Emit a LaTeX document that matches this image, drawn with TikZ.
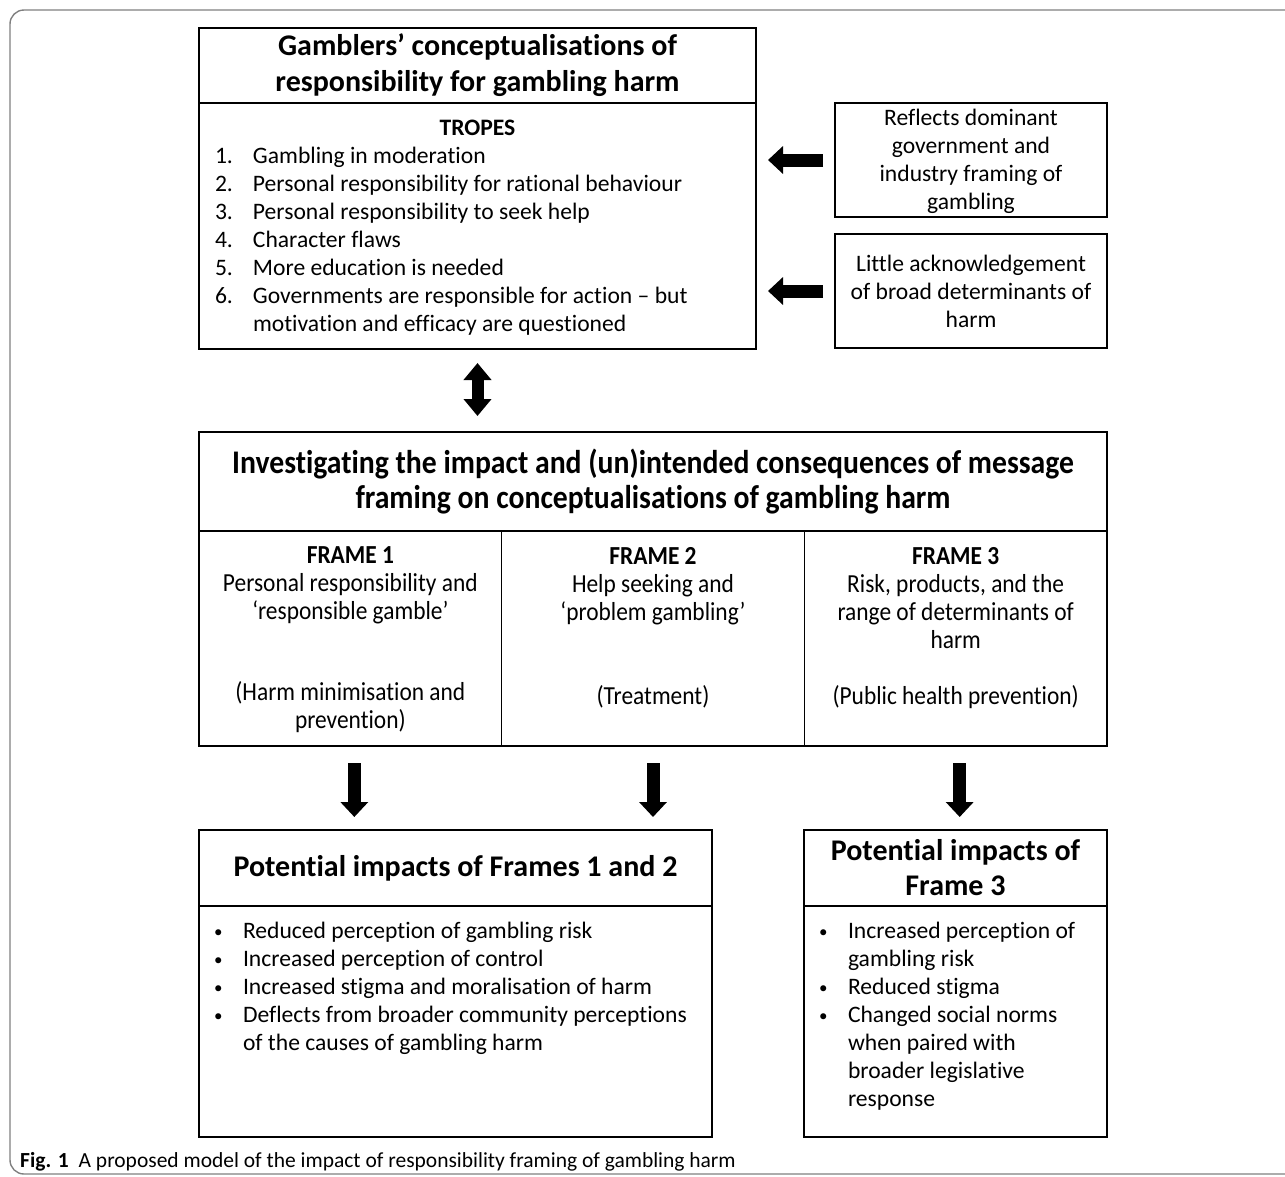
\documentclass[tikz,border=0pt]{standalone}
\usepackage{fontspec}
\setmainfont{Carlito}[Ligatures=NoCommon]
\newfontfamily\narrowfont{Carlito}[FakeStretch=0.9,Ligatures=NoCommon]
\usetikzlibrary{positioning,arrows.meta}

\newcommand{\bodysize}{\fontsize{23.6}{28}\selectfont}
\newcommand{\headsize}{\fontsize{30}{36}\selectfont\bfseries}
\newcommand{\hangline}[3]{\par\noindent\hangindent=#1\hangafter=1\makebox[#1][l]{#2}#3}
\newcommand{\smallbullet}{\raisebox{1pt}{\fontsize{17}{17}\selectfont •}}

\begin{document}
\begin{tikzpicture}[x=1pt,y=-1pt,
    box/.style={draw,line width=1.6pt,inner sep=0pt,outer sep=0pt,align=center},
    blockarrow/.style={line width=13pt,-{Triangle[length=15pt 0 0,width=27pt 0 0]}},
    twowayarrow/.style={line width=12pt,{Triangle[length=17pt 0 0,width=27pt 0 0]}-{Triangle[length=17pt 0 0,width=27pt 0 0]}}]
    \useasboundingbox (0,0) rectangle (1285,1176);
    \begin{scope}
        \clip (0,0) rectangle (1285,1176);
        \draw[black!50,line width=1.4pt,rounded corners=14pt] (10,10) rectangle (1320,1174);
    \end{scope}
    % top block
    \node[box,minimum width=557pt,minimum height=75pt,font=\headsize] (gtitle) at (477.5,65.5)
        {Gamblers’ conceptualisations of\\responsibility for gambling harm};
    \node[box,below=0pt of gtitle,minimum width=557pt,minimum height=246pt,font=\bodysize] (tropes)
        {\parbox[c][246pt][t]{525pt}{\parskip=0pt\centering\vspace*{17pt}\textbf{TROPES}\par\raggedright
        \hangline{38pt}{1.}{Gambling in moderation}
        \hangline{38pt}{2.}{Personal responsibility for rational behaviour}
        \hangline{38pt}{3.}{Personal responsibility to seek help}
        \hangline{38pt}{4.}{Character flaws}
        \hangline{38pt}{5.}{More education is needed}
        \hangline{38pt}{6.}{Governments are responsible for action – but\newline motivation and efficacy are questioned}\par}};
    \node[box,minimum width=272pt,minimum height=114pt,font=\bodysize] (reflects) at (971,160)
        {\rule{0pt}{20pt}Reflects dominant\\government and\\industry framing of\\gambling};
    \node[box,minimum width=272pt,minimum height=114pt,font=\bodysize] (little) at (971,291)
        {Little acknowledgement\\of broad determinants of\\harm};
    % framing block
    \node[box,minimum width=908pt,minimum height=99pt,font=\narrowfont\fontsize{33}{35}\selectfont\bfseries] (invest) at (653,481.5)
        {Investigating the impact and (un)intended consequences of message\\framing on conceptualisations of gambling harm};
    \node[box,anchor=north west,minimum width=302.67pt,minimum height=215pt,font=\narrowfont\fontsize{26}{28}\selectfont] (frameone) at (invest.south west)
        {\parbox[c][215pt][t]{295pt}{\centering\vspace*{16pt}\textbf{FRAME 1}\\Personal responsibility and\\‘responsible gamble’\\[53pt](Harm minimisation and\\prevention)}};
    \node[box,right=0pt of frameone,minimum width=302.67pt,minimum height=215pt,font=\narrowfont\fontsize{26}{28}\selectfont] (frametwo)
        {\parbox[c][215pt][t]{295pt}{\centering\vspace*{16pt}\textbf{FRAME 2}\\Help seeking and\\‘problem gambling’\\[56pt](Treatment)}};
    \node[box,right=0pt of frametwo,minimum width=302.67pt,minimum height=215pt,font=\narrowfont\fontsize{26}{28}\selectfont] (framethree)
        {\parbox[c][215pt][t]{295pt}{\centering\vspace*{16pt}\textbf{FRAME 3}\\Risk, products, and the\\range of determinants of\\harm\\[28pt](Public health prevention)}};
    % impacts
    \node[box,anchor=north west,minimum width=513pt,minimum height=76pt,font=\headsize] (impactone) at (199,830)
        {Potential impacts of Frames 1 and 2};
    \node[box,below=0pt of impactone,minimum width=513pt,minimum height=231pt,font=\bodysize] (impactonelist)
        {\parbox[c][231pt][t]{483pt}{\parskip=0pt\raggedright\vspace*{16pt}
        \hangline{29pt}{\smallbullet}{Reduced perception of gambling risk}
        \hangline{29pt}{\smallbullet}{Increased perception of control}
        \hangline{29pt}{\smallbullet}{Increased stigma and moralisation of harm}
        \hangline{29pt}{\smallbullet}{Deflects from broader community perceptions\newline of the causes of gambling harm}\par}};
    \node[box,anchor=north west,minimum width=303pt,minimum height=76pt,font=\fontsize{30}{35}\selectfont\bfseries] (impactthree) at (804,830)
        {Potential impacts of\\Frame 3};
    \node[box,below=0pt of impactthree,minimum width=303pt,minimum height=231pt,font=\bodysize] (impactthreelist)
        {\parbox[c][231pt][t]{273pt}{\parskip=0pt\raggedright\vspace*{16pt}
        \hangline{29pt}{\smallbullet}{Increased perception of\newline gambling risk}
        \hangline{29pt}{\smallbullet}{Reduced stigma}
        \hangline{29pt}{\smallbullet}{Changed social norms\newline when paired with\newline broader legislative\newline response}\par}};
    % arrows
    \draw[blockarrow,shorten <=12pt,shorten >=12pt] (reflects.west) -- (reflects.west -| tropes.east);
    \draw[blockarrow,shorten <=12pt,shorten >=12pt] (little.west) -- (little.west -| tropes.east);
    \draw[twowayarrow,shorten <=14pt,shorten >=16pt] (tropes.south) -- (tropes.south |- invest.north);
    \draw[blockarrow,shorten <=17pt,shorten >=13pt] ([xshift=4pt]frameone.south) -- ([xshift=4pt]frameone.south |- impactone.north);
    \draw[blockarrow,shorten <=17pt,shorten >=13pt] (frametwo.south) -- (frametwo.south |- impactone.north);
    \draw[blockarrow,shorten <=17pt,shorten >=13pt] ([xshift=4pt]framethree.south) -- ([xshift=4pt]framethree.south |- impactthree.north);
    % caption
    \node[anchor=base west,inner sep=0pt,font=\fontsize{21.5}{25}\selectfont] (caption) at (20,1167)
        {\textbf{Fig. 1}\hspace{10pt}A proposed model of the impact of responsibility framing of gambling harm};
\end{tikzpicture}
\end{document}
